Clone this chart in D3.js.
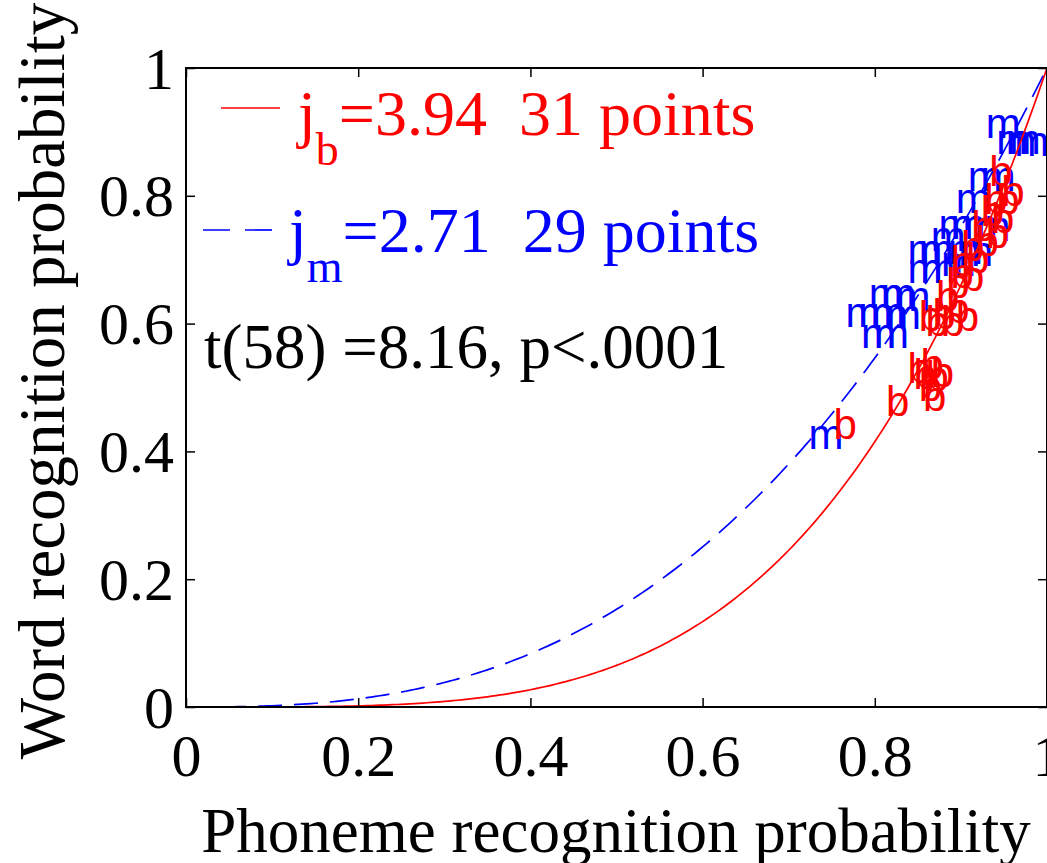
<!DOCTYPE html>
<html><head><meta charset="utf-8">
<script src="https://cdn.jsdelivr.net/npm/d3@7/dist/d3.min.js"></script>
<style>
html,body{margin:0;padding:0;background:#fff;}
svg{display:block;}
text{white-space:pre;}
</style></head>
<body>
<svg id="chart" width="1047" height="863"></svg>
<script>
// ---- data ----
const jB = 3.94;   // exponent, "b" condition
const jM = 2.71;   // exponent, "m" condition
const xTickValues = [0, 0.2, 0.4, 0.6, 0.8, 1];
const xTickLabels = ["0", "0.2", "0.4", "0.6", "0.8", "1"];
const yTickValues = [0, 0.2, 0.4, 0.6, 0.8, 1];
const yTickLabels = ["0", "0.2", "0.4", "0.6", "0.8", "1"];
// "m" points (phoneme prob, word prob)
const mX = [0.929,0.941,0.952,0.962,0.908,0.923,0.894,0.874,0.888,0.902,0.917,0.838,0.851,0.885,0.897,0.838,0.853,0.793,0.807,0.766,0.781,0.795,0.813,0.784,0.799,0.723,0.865,0.877,0.824];
const mY = [0.908,0.883,0.883,0.880,0.825,0.825,0.790,0.750,0.750,0.750,0.746,0.710,0.710,0.710,0.707,0.681,0.681,0.642,0.642,0.612,0.612,0.612,0.609,0.579,0.579,0.421,0.731,0.692,0.637];
// "b" points
const bX = [0.933,0.927,0.941,0.935,0.929,0.900,0.906,0.888,0.883,0.900,0.851,0.867,0.883,0.894,0.838,0.845,0.853,0.859,0.851,0.856,0.813,0.752,0.917,0.912,0.923,0.947,0.888,0.871,0.859,0.877,0.865];
const bY = [0.833,0.789,0.789,0.759,0.736,0.715,0.696,0.673,0.657,0.668,0.606,0.609,0.618,0.606,0.524,0.515,0.531,0.512,0.496,0.480,0.473,0.437,0.723,0.746,0.770,0.801,0.692,0.637,0.598,0.598,0.518];
const curveX = d3.range(0, 1.0001, 0.005);

// ---- drawing ----
const svg = d3.select("#chart");
const serif = "'Liberation Serif','Times New Roman',serif";
const sans = "'Liberation Sans',Arial,Helvetica,sans-serif";
const x = d3.scaleLinear().domain([0, 1]).range([186, 1047]);
const y = d3.scaleLinear().domain([0, 1]).range([707, 68]);
const tickFont = 60, labelFont = 63, noteFont = 64;

// points as text markers
const ptFont = 42;
svg.append("g").selectAll("text").data(mX.map((v, i) => [v, mY[i]])).join("text")
  .attr("x", d => x(d[0])).attr("y", d => y(d[1])).attr("dy", "0.26em")
  .attr("font-family", sans).attr("font-size", ptFont).attr("fill", "#0000ff").text("m");
svg.append("g").selectAll("text").data(bX.map((v, i) => [v, bY[i]])).join("text")
  .attr("x", d => x(d[0])).attr("y", d => y(d[1])).attr("dy", "0.26em")
  .attr("font-family", sans).attr("font-size", ptFont).attr("fill", "#ff0000").text("b");

// curves
const line = d3.line().x(d => x(d[0])).y(d => y(d[1]));
svg.append("path").attr("d", line(curveX.map(v => [v, Math.pow(v, jM)])))
  .attr("fill", "none").attr("stroke", "#0000ff").attr("stroke-width", 1.7)
  .attr("stroke-dasharray", "24,12");
svg.append("path").attr("d", line(curveX.map(v => [v, Math.pow(v, jB)])))
  .attr("fill", "none").attr("stroke", "#ff0000").attr("stroke-width", 1.7);

// box
svg.append("rect").attr("x", x(0)).attr("y", y(1)).attr("width", x(1) - x(0)).attr("height", y(0) - y(1))
  .attr("fill", "none").attr("stroke", "#000").attr("stroke-width", 2);

// axes (inward ticks on all sides)
const tl = 9;
const axB = svg.append("g").attr("transform", `translate(0,${y(0)})`)
  .call(d3.axisBottom(x).tickValues(xTickValues).tickSize(-tl).tickFormat((d, i) => xTickLabels[i]).tickPadding(0));
const axT = svg.append("g").attr("transform", `translate(0,${y(1)})`)
  .call(d3.axisTop(x).tickValues(xTickValues).tickSize(-tl).tickFormat(""));
const axL = svg.append("g").attr("transform", `translate(${x(0)},0)`)
  .call(d3.axisLeft(y).tickValues(yTickValues).tickSize(-tl).tickFormat((d, i) => yTickLabels[i]).tickPadding(0));
const axR = svg.append("g").attr("transform", `translate(${x(1)},0)`)
  .call(d3.axisRight(y).tickValues(yTickValues).tickSize(-tl).tickFormat(""));
[axB, axT, axL, axR].forEach(a => {
  a.select(".domain").remove();
  a.selectAll(".tick line").attr("stroke", "#000").attr("stroke-width", 1.5);
});
axB.selectAll(".tick text").attr("font-family", serif).attr("font-size", tickFont).attr("fill", "#000")
  .attr("y", 69).attr("dy", 0);
axL.selectAll(".tick text").attr("font-family", serif).attr("font-size", tickFont).attr("fill", "#000")
  .attr("x", -12).attr("dy", 20);

// axis labels
svg.append("text").attr("x", 616).attr("y", 852).attr("text-anchor", "middle")
  .attr("font-family", serif).attr("font-size", labelFont).text("Phoneme recognition probability");
svg.append("text").attr("transform", "translate(64,381) rotate(-90)").attr("text-anchor", "middle")
  .attr("font-family", serif).attr("font-size", 65).text("Word recognition probability");

// legend-like annotations
svg.append("line").attr("x1", 221).attr("x2", 280).attr("y1", 108).attr("y2", 108)
  .attr("stroke", "#ff0000").attr("stroke-width", 1.7);
const t1 = svg.append("text").attr("x", 298).attr("y", 135).attr("font-family", serif)
  .attr("font-size", noteFont).attr("fill", "#ff0000");
t1.append("tspan").text("j");
t1.append("tspan").attr("font-size", 46).attr("dy", 30).text("b");
t1.append("tspan").attr("dy", -30).text(`=${jB.toFixed(2)}  31 points`);

svg.append("line").attr("x1", 203).attr("x2", 278).attr("y1", 230).attr("y2", 230)
  .attr("stroke", "#0000ff").attr("stroke-width", 1.7).attr("stroke-dasharray", "27,15");
const t2 = svg.append("text").attr("x", 289).attr("y", 252).attr("font-family", serif)
  .attr("font-size", noteFont).attr("fill", "#0000ff");
t2.append("tspan").text("j");
t2.append("tspan").attr("font-size", 46).attr("dy", 30).text("m");
t2.append("tspan").attr("dy", -30).text(`=${jM.toFixed(2)}  29 points`);

svg.append("text").attr("x", 204).attr("y", 368).attr("font-family", serif)
  .attr("font-size", 63).attr("fill", "#000").text("t(58) =8.16, p<.0001");
</script>
</body></html>
